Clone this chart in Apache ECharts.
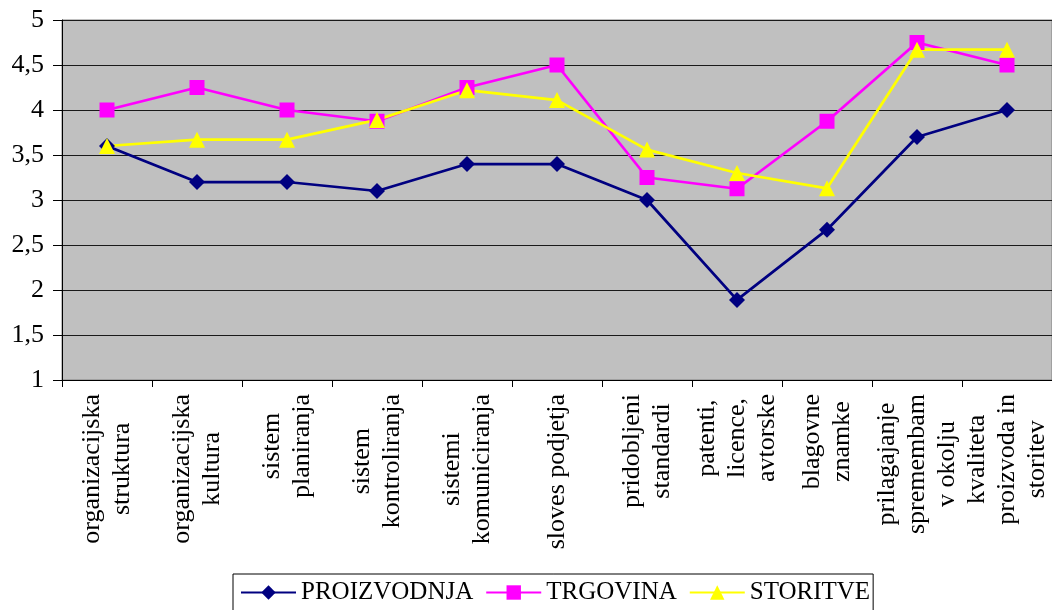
<!DOCTYPE html>
<html>
<head>
<meta charset="utf-8">
<style>
  html, body { margin: 0; padding: 0; background: #ffffff; }
  #chart { width: 1052px; height: 610px; }
</style>
<script src="https://cdn.jsdelivr.net/npm/echarts@6/dist/echarts.min.js"></script>
</head>
<body>
<div id="chart"></div>
<script>
// Categories (multi-line labels under the x axis)
const categories = [
  'organizacijska\nstruktura',
  'organizacijska\nkultura',
  'sistem\nplaniranja',
  'sistem\nkontroliranja',
  'sistemi\nkomuniciranja',
  'sloves podjetja',
  'pridobljeni\nstandardi',
  'patenti,\nlicence,\navtorske',
  'blagovne\nznamke',
  'prilagajanje\nspremembam\nv okolju',
  'kvaliteta\nproizvoda in\nstoritev'
];

// Average scores per sector
const proizvodnja = [3.6, 3.2, 3.2, 3.1, 3.4, 3.4, 3.0, 1.89, 2.67, 3.7, 4.0];
const trgovina    = [4.0, 4.25, 4.0, 3.875, 4.25, 4.5, 3.25, 3.125, 3.875, 4.75, 4.5];
const storitve    = [3.6, 3.67, 3.67, 3.89, 4.22, 4.11, 3.56, 3.3, 3.13, 4.67, 4.67];

const seriesNames = ['PROIZVODNJA', 'TRGOVINA', 'STORITVE'];

// Value axis range and step
const yMin = 1;
const yMax = 5;
const yStep = 0.5;

const FONT = "'Liberation Serif', 'Times New Roman', serif";

const chart = echarts.init(document.getElementById('chart'), null, { renderer: 'canvas' });

function lineSeries(name, data, color, symbol, size) {
  return {
    name: name,
    type: 'line',
    data: data,
    symbol: symbol,
    symbolSize: size,
    showAllSymbol: true,
    lineStyle: { color: color, width: 2.75 },
    itemStyle: { color: color, borderWidth: 0 },
    emphasis: { disabled: true },
    animation: false,
    z: 3
  };
}

chart.setOption({
  animation: false,
  backgroundColor: '#ffffff',
  grid: {
    left: 62,
    top: 20,
    right: 0,
    bottom: 230,
    show: true,
    backgroundColor: '#C0C0C0',
    borderColor: '#808080',
    borderWidth: 1
  },
  legend: {
    data: seriesNames,
    left: 233,
    top: 574,
    orient: 'horizontal',
    itemWidth: 55,
    itemHeight: 18,
    itemGap: 12,
    padding: [6, 3, 12, 7],
    borderColor: '#000000',
    borderWidth: 1,
    backgroundColor: '#ffffff',
    textStyle: { fontFamily: FONT, fontSize: 25, color: '#000000' },
    selectedMode: false
  },
  xAxis: {
    type: 'category',
    data: categories,
    boundaryGap: true,
    axisLine: { show: true, onZero: false, lineStyle: { color: '#000000', width: 1 } },
    axisTick: { show: true, length: 7, alignWithLabel: false, lineStyle: { color: '#000000' } },
    splitLine: { show: false },
    axisLabel: {
      interval: 0,
      rotate: 90,
      margin: 14,
      color: '#000000',
      fontFamily: FONT,
      fontSize: 26,
      formatter: function (v) {
        return v.split('\n').map(function (l) { return '{c|' + l + '}'; }).join('\n');
      },
      rich: {
        c: { align: 'center', fontFamily: FONT, fontSize: 26, lineHeight: 30, color: '#000000' }
      }
    }
  },
  yAxis: {
    type: 'value',
    min: yMin,
    max: yMax,
    interval: yStep,
    axisLine: { show: true, lineStyle: { color: '#000000', width: 1 } },
    axisTick: { show: true, length: 9, inside: false, lineStyle: { color: '#000000' } },
    splitLine: { show: true, lineStyle: { color: '#1a1a1a', width: 1 } },
    axisLabel: {
      margin: 18,
      color: '#000000',
      fontFamily: FONT,
      fontSize: 26,
      formatter: function (v) { return String(v).replace('.', ','); }
    }
  },
  series: [
    lineSeries(seriesNames[0], proizvodnja, '#000080', 'diamond', 16),
    lineSeries(seriesNames[1], trgovina, '#FF00FF', 'rect', 15),
    lineSeries(seriesNames[2], storitve, '#FFFF00', 'triangle', 16)
  ]
});
</script>
</body>
</html>
